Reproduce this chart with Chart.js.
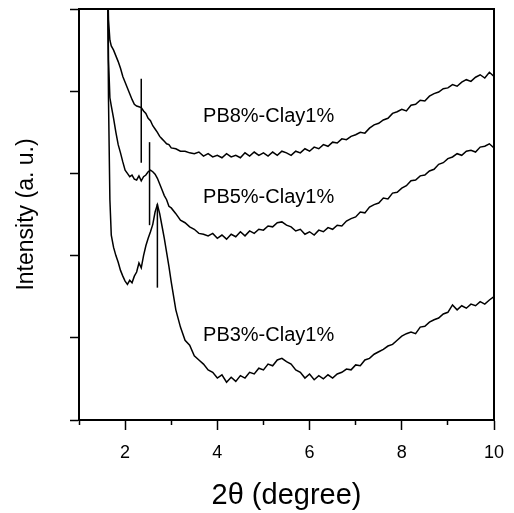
<!DOCTYPE html>
<html>
<head>
<meta charset="utf-8">
<script src="https://cdn.jsdelivr.net/npm/chart.js@4/dist/chart.umd.min.js"></script>
<style>
	body { margin: 0; background: #fff; }
	#wrap { width: 514px; height: 513px; }
</style>
</head>
<body>
<div id="wrap"><canvas id="xrdChart"></canvas></div>
<script>
// 2 theta positions (degree)
const twoTheta = [1.62, 1.64, 1.67, 1.7,
	1.75, 1.8, 1.85, 1.9, 1.95, 2.0, 2.05, 2.1, 2.15, 2.2, 2.25, 2.3, 2.35, 2.4, 2.45, 2.5,
	2.55, 2.6, 2.65, 2.7, 2.75, 2.8, 2.85, 2.9, 2.95, 3.0,
	3.1, 3.2, 3.3, 3.4, 3.5, 3.6, 3.7, 3.8, 3.9, 4.0, 4.1, 4.2, 4.3, 4.4, 4.5, 4.6, 4.7, 4.8, 4.9, 5.0,
	5.1, 5.2, 5.3, 5.4, 5.5, 5.6, 5.7, 5.8, 5.9, 6.0, 6.1, 6.2, 6.3, 6.4, 6.5, 6.6, 6.7, 6.8, 6.9, 7.0,
	7.1, 7.2, 7.3, 7.4, 7.5, 7.6, 7.7, 7.8, 7.9, 8.0, 8.1, 8.2, 8.3, 8.4, 8.5, 8.6, 8.7, 8.8, 8.9, 9.0,
	9.1, 9.2, 9.3, 9.4, 9.5, 9.6, 9.7, 9.8, 9.9, 10.0]

// intensities (a.u., curves offset vertically like the figure)
const pb3 = [5.4, 3.89, 2.68, 2.25,
	2.10, 2.00, 1.92, 1.82, 1.75, 1.69, 1.65, 1.70, 1.67, 1.75, 1.80, 1.91, 1.85, 2.00, 2.12, 2.21,
	2.29, 2.38, 2.53, 2.62, 2.51, 2.36, 2.21, 2.04, 1.87, 1.68,
	1.34, 1.13, 0.97, 0.91, 0.78, 0.73, 0.68, 0.61, 0.58, 0.51, 0.55, 0.46, 0.52, 0.47, 0.54, 0.51, 0.58, 0.56, 0.63, 0.61,
	0.68, 0.66, 0.73, 0.75, 0.71, 0.68, 0.61, 0.58, 0.51, 0.56, 0.49, 0.54, 0.50, 0.55, 0.51, 0.56, 0.58, 0.62, 0.61, 0.67,
	0.66, 0.73, 0.75, 0.80, 0.83, 0.86, 0.90, 0.92, 0.97, 1.02, 1.05, 1.07, 1.05, 1.13, 1.14, 1.19, 1.22, 1.24, 1.29, 1.31,
	1.40, 1.34, 1.39, 1.36, 1.41, 1.39, 1.44, 1.41, 1.46, 1.50]

const pb5 = [5.4, 4.38, 3.92, 3.82,
	3.67, 3.50, 3.35, 3.25, 3.14, 3.04, 3.00, 2.96, 2.98, 2.93, 2.92, 2.97, 2.91, 2.96, 2.98, 3.02,
	3.04, 3.02, 2.99, 2.94, 2.87, 2.80, 2.73, 2.68, 2.60, 2.58,
	2.51, 2.43, 2.40, 2.35, 2.32, 2.27, 2.26, 2.24, 2.27, 2.21, 2.25, 2.20, 2.26, 2.23, 2.29, 2.24, 2.30, 2.27, 2.32, 2.31,
	2.36, 2.35, 2.40, 2.41, 2.37, 2.35, 2.30, 2.32, 2.26, 2.29, 2.25, 2.31, 2.29, 2.34, 2.32, 2.37, 2.36, 2.42, 2.45, 2.47,
	2.53, 2.52, 2.59, 2.62, 2.64, 2.70, 2.69, 2.76, 2.77, 2.82, 2.85, 2.91, 2.92, 2.97, 2.98, 3.03, 3.05, 3.11, 3.13, 3.18,
	3.20, 3.24, 3.22, 3.27, 3.28, 3.26, 3.32, 3.33, 3.36, 3.31]

const pb8 = [5.4, 4.87, 4.62, 4.55,
	4.50, 4.43, 4.36, 4.28, 4.18, 4.11, 4.04, 3.97, 3.90, 3.84, 3.82, 3.81, 3.80, 3.76, 3.73, 3.67,
	3.64, 3.58, 3.54, 3.50, 3.45, 3.42, 3.39, 3.36, 3.35, 3.31,
	3.30, 3.27, 3.27, 3.25, 3.24, 3.26, 3.21, 3.24, 3.20, 3.22, 3.19, 3.24, 3.20, 3.22, 3.19, 3.25, 3.21, 3.26, 3.22, 3.25,
	3.21, 3.26, 3.22, 3.27, 3.25, 3.22, 3.27, 3.25, 3.30, 3.27, 3.32, 3.30, 3.35, 3.33, 3.38, 3.37, 3.42, 3.41, 3.45, 3.47,
	3.50, 3.49, 3.55, 3.59, 3.61, 3.65, 3.67, 3.73, 3.75, 3.78, 3.76, 3.83, 3.84, 3.89, 3.88, 3.94, 3.97, 3.99, 4.03, 4.04,
	4.08, 4.06, 4.11, 4.14, 4.12, 4.17, 4.20, 4.16, 4.23, 4.18]

// vertical marker lines drawn on each curve: [2theta, low, high]
const marker8 = [2.35, 3.13, 4.15]
const marker5 = [2.53, 2.37, 3.38]
const marker3 = [2.70, 1.61, 2.63]

// curve labels
const labelText = ['PB8%-Clay1%', 'PB5%-Clay1%', 'PB3%-Clay1%']
const labelX = [3.69, 3.69, 3.69]
const labelY = [3.69, 2.71, 1.03]

const xMajorTicks = [2, 4, 6, 8, 10]
const xMinorTicks = [1, 3, 5, 7, 9]
const yTicks = [0, 1, 2, 3, 4, 5]

const FONT = '"Liberation Sans", Arial, sans-serif'

function toPoints(xs, ys) {
	return xs.map((x, i) => ({x: x, y: ys[i]}))
}

function markerPoints(m) {
	return [{x: m[0], y: m[1]}, {x: m[0], y: m[2]}]
}

function lineSet(label, data) {
	return {
		label: label,
		data: data,
		borderColor: '#000',
		borderWidth: 1.5,
		pointRadius: 0,
		tension: 0,
		fill: false
	}
}

const curveLabels = {
	id: 'curveLabels',
	afterDatasetsDraw(chart) {
		const ctx = chart.ctx
		const xs = chart.scales.x
		const ys = chart.scales.y
		ctx.save()
		ctx.fillStyle = '#000'
		ctx.font = '20px ' + FONT
		ctx.textAlign = 'left'
		ctx.textBaseline = 'middle'
		labelText.forEach((t, i) => {
			ctx.fillText(t, xs.getPixelForValue(labelX[i]), ys.getPixelForValue(labelY[i]))
		})
		ctx.restore()
	}
}

new Chart(document.getElementById('xrdChart').getContext('2d'), {
	type: 'line',
	data: {
		datasets: [
			lineSet('PB8%-Clay1%', toPoints(twoTheta, pb8)),
			lineSet('PB5%-Clay1%', toPoints(twoTheta, pb5)),
			lineSet('PB3%-Clay1%', toPoints(twoTheta, pb3)),
			lineSet('m8', markerPoints(marker8)),
			lineSet('m5', markerPoints(marker5)),
			lineSet('m3', markerPoints(marker3))
		]
	},
	options: {
		responsive: true,
		maintainAspectRatio: false,
		animation: false,
		layout: {padding: 0},
		plugins: {
			legend: {display: false},
			tooltip: {enabled: false}
		},
		scales: {
			x: {
				type: 'linear',
				position: 'bottom',
				min: 1,
				max: 10,
				afterBuildTicks: s => { s.ticks = xMajorTicks.map(v => ({value: v})) },
				afterFit: s => { s.height = 93; s.paddingLeft = 0; s.paddingRight = 0 },
				grid: {drawOnChartArea: false, tickLength: 10, tickWidth: 1.5, tickColor: '#000'},
				border: {display: true, color: '#000', width: 2},
				ticks: {color: '#000', font: {family: FONT, size: 18}, padding: 12, maxRotation: 0},
				title: {display: true, text: '2θ (degree)', color: '#000', font: {family: FONT, size: 29}, padding: 0}
			},
			xMinor: {
				type: 'linear',
				position: 'bottom',
				weight: -1,
				min: 1,
				max: 10,
				afterBuildTicks: s => { s.ticks = xMinorTicks.map(v => ({value: v})) },
				afterFit: s => { s.height = 0; s.paddingLeft = 0; s.paddingRight = 0 },
				grid: {drawOnChartArea: false, tickLength: 5, tickWidth: 1.5, tickColor: '#000'},
				border: {display: false},
				ticks: {callback: () => ''}
			},
			xTop: {
				type: 'linear',
				position: 'top',
				min: 1,
				max: 10,
				afterFit: s => { s.height = 9; s.paddingLeft = 0; s.paddingRight = 0 },
				grid: {display: false},
				border: {display: true, color: '#000', width: 2},
				ticks: {display: false}
			},
			y: {
				type: 'linear',
				min: 0,
				max: 5,
				afterBuildTicks: s => { s.ticks = yTicks.map(v => ({value: v})) },
				afterFit: s => { s.width = 79; s.paddingTop = 0; s.paddingBottom = 0 },
				grid: {drawOnChartArea: false, tickLength: 9, tickWidth: 1.5, tickColor: '#000'},
				border: {display: true, color: '#000', width: 2},
				ticks: {callback: () => ''},
				title: {display: true, text: 'Intensity (a. u.)', color: '#000', font: {family: FONT, size: 23}, padding: {top: 13}}
			},
			yRight: {
				type: 'linear',
				position: 'right',
				min: 0,
				max: 5,
				afterFit: s => { s.width = 20; s.paddingTop = 0; s.paddingBottom = 0 },
				grid: {display: false},
				border: {display: true, color: '#000', width: 2},
				ticks: {display: false}
			}
		}
	},
	plugins: [curveLabels]
})
</script>
</body>
</html>
